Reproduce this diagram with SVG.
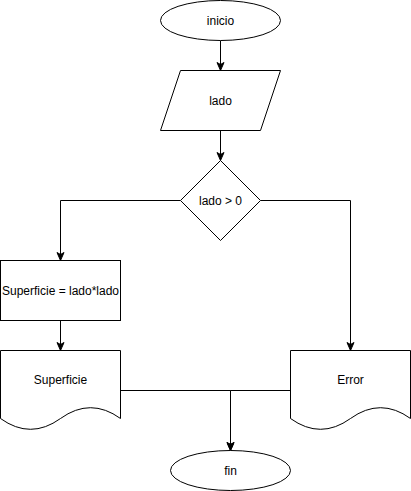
<svg xmlns="http://www.w3.org/2000/svg" width="411" height="491" viewBox="0 0 411 491">
<defs>
<style>
.s{fill:#ffffff;stroke:#000000;stroke-width:1}
.c{fill:none;stroke:#000000;stroke-width:1}
text{font-family:"Liberation Sans",Arial,Helvetica,sans-serif;font-size:12px;fill:#000000;text-anchor:middle;dominant-baseline:central}
</style>
<marker id="arr" markerUnits="userSpaceOnUse" viewBox="-9 -5 10 10" refX="0" refY="0" markerWidth="10" markerHeight="10" orient="auto" overflow="visible">
<path d="M0,0 L-8,-3.5 L-6,0 L-8,3.5 Z" fill="#000000" stroke="#000000" stroke-width="1"/>
</marker>
</defs>
<rect width="411" height="491" fill="#ffffff"/>
<g transform="translate(0.5,0.5)">
<g id="connectors">
<path class="c" d="M220,40 V70" marker-end="url(#arr)"/>
<path class="c" d="M220,130 V160" marker-end="url(#arr)"/>
<path class="c" d="M180,200 H60 V260" marker-end="url(#arr)"/>
<path class="c" d="M260,200 H350 V350" marker-end="url(#arr)"/>
<path class="c" d="M60,320 V350" marker-end="url(#arr)"/>
<path class="c" d="M120,390 H230 V450" marker-end="url(#arr)"/>
<path class="c" d="M290,390 H230 V450" marker-end="url(#arr)"/>
</g>
<g id="inicio">
<ellipse class="s" cx="220" cy="20" rx="60" ry="20"/>
<text x="220" y="20">inicio</text>
</g>
<g id="lado-input">
<path class="s" d="M180,70 H280 L260,130 H160 Z"/>
<text x="220" y="100">lado</text>
</g>
<g id="decision">
<path class="s" d="M220,160 L260,200 L220,240 L180,200 Z"/>
<text x="220" y="200">lado &gt; 0</text>
</g>
<g id="proceso">
<rect class="s" x="0" y="260" width="120" height="60"/>
<text x="60" y="290">Superficie = lado*lado</text>
</g>
<g id="doc-superficie">
<path class="s" d="M0,350 H120 V418 Q90,396.4 60,418 Q30,439.6 0,418 Z"/>
<text x="60" y="379">Superficie</text>
</g>
<g id="doc-error">
<path class="s" d="M290,350 H410 V418 Q380,396.4 350,418 Q320,439.6 290,418 Z"/>
<text x="350" y="379">Error</text>
</g>
<g id="fin">
<ellipse class="s" cx="230" cy="470" rx="60" ry="20"/>
<text x="230" y="470">fin</text>
</g>
</g>
</svg>
